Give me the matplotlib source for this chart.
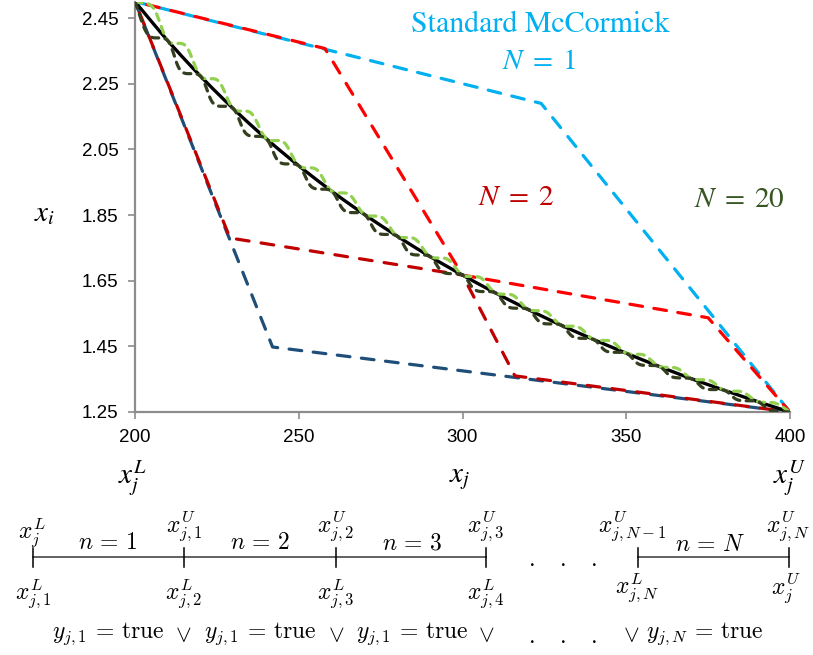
import numpy as np
import matplotlib
matplotlib.use("Agg")
import matplotlib.pyplot as plt

# ---------------- data ----------------
xj_part = [200, 210, 220, 230, 240, 250, 260, 270, 280, 290, 300,
           310, 320, 330, 340, 350, 360, 370, 380, 390, 400]
xi_curve = [2.5, 2.381, 2.273, 2.174, 2.083, 2.0, 1.923, 1.852, 1.786, 1.724, 1.667,
            1.613, 1.5625, 1.515, 1.471, 1.429, 1.389, 1.351, 1.316, 1.282, 1.25]

mc1_upper_x = [200, 324, 400]
mc1_upper_y = [2.5, 2.19, 1.25]
mc1_lower_x = [200, 242, 400]
mc1_lower_y = [2.5, 1.448, 1.25]

n2_p1_upper_x = [200, 258, 300]
n2_p1_upper_y = [2.5, 2.357, 1.667]
n2_p1_lower_x = [200, 229, 300]
n2_p1_lower_y = [2.5, 1.78, 1.667]
n2_p2_upper_x = [300, 375, 400]
n2_p2_upper_y = [1.667, 1.537, 1.25]
n2_p2_lower_x = [300, 316, 400]
n2_p2_lower_y = [1.667, 1.36, 1.25]

n20_upper_x = [200, 205.5, 210, 215.5, 220, 225.5, 230, 235.5, 240, 245.5, 250, 255.5,
               260, 265.5, 270, 275.5, 280, 285.5, 290, 295.5, 300, 305.5, 310, 315.5,
               320, 325.5, 330, 335.5, 340, 345.5, 350, 355.5, 360, 365.5, 370, 375.5,
               380, 385.5, 390, 395.5, 400]
n20_upper_y = [2.5, 2.482, 2.381, 2.365, 2.273, 2.258, 2.174, 2.160, 2.083, 2.071, 2.0, 1.988,
               1.923, 1.912, 1.852, 1.842, 1.786, 1.777, 1.724, 1.715, 1.667, 1.659, 1.613, 1.605,
               1.5625, 1.555, 1.515, 1.508, 1.471, 1.465, 1.429, 1.423, 1.389, 1.383, 1.351, 1.346,
               1.316, 1.311, 1.282, 1.277, 1.25]
n20_lower_x = [200, 204, 210, 214, 220, 224, 230, 234, 240, 244, 250, 254,
               260, 264, 270, 274, 280, 284, 290, 294, 300, 304, 310, 314,
               320, 324, 330, 334, 340, 344, 350, 354, 360, 364, 370, 374,
               380, 384, 390, 394, 400]
n20_lower_y = [2.5, 2.399, 2.381, 2.289, 2.273, 2.189, 2.174, 2.097, 2.083, 2.012, 2.0, 1.935,
               1.923, 1.863, 1.852, 1.796, 1.786, 1.733, 1.724, 1.676, 1.667, 1.621, 1.613, 1.570,
               1.5625, 1.522, 1.515, 1.478, 1.471, 1.435, 1.429, 1.395, 1.389, 1.357, 1.351, 1.321,
               1.316, 1.287, 1.282, 1.255, 1.25]

x_ticks = [200, 250, 300, 350, 400]
y_ticks = [1.25, 1.45, 1.65, 1.85, 2.05, 2.25, 2.45]


def smooth(x, y, n=12):
    """Catmull-Rom rendering of a polyline (like a smoothed spreadsheet line)."""
    x = np.asarray(x, float); y = np.asarray(y, float)
    px = np.concatenate([[2 * x[0] - x[1]], x, [2 * x[-1] - x[-2]]])
    py = np.concatenate([[2 * y[0] - y[1]], y, [2 * y[-1] - y[-2]]])
    ox, oy = [], []
    t = np.linspace(0, 1, n, endpoint=False)
    for i in range(1, len(px) - 2):
        for P, out in ((px, ox), (py, oy)):
            p0, p1, p2, p3 = P[i - 1], P[i], P[i + 1], P[i + 2]
            out.extend(0.5 * ((2 * p1) + (-p0 + p2) * t + (2 * p0 - 5 * p1 + 4 * p2 - p3) * t ** 2
                              + (-p0 + 3 * p1 - 3 * p2 + p3) * t ** 3))
    ox.append(x[-1]); oy.append(y[-1])
    return np.array(ox), np.array(oy)


W, H = 813, 655
fig = plt.figure(figsize=(W / 100, H / 100), dpi=100)
ax = fig.add_axes([135 / W, 1 - 412 / H, 655 / W, 410.4 / H])

CYAN = "#00B0F0"
DBLUE = "#1F4E79"
RED = "#FF0000"
DRED = "#C00000"
LGREEN = "#92D050"
DGREEN = "#333F1F"

lw = 2.3
dl = dict(dash_capstyle="round", solid_capstyle="round")

ax.plot(mc1_upper_x, mc1_upper_y, color=CYAN, lw=lw, dashes=(4.0, 3.6), **dl, zorder=2)
ax.plot(mc1_lower_x, mc1_lower_y, color=DBLUE, lw=lw, dashes=(4.0, 3.6), **dl, zorder=2)
ax.plot(n2_p1_upper_x, n2_p1_upper_y, color=RED, lw=lw, dashes=(0, 3.8, 4.0, 0), **dl, zorder=3)
ax.plot(n2_p1_lower_x, n2_p1_lower_y, color=DRED, lw=lw, dashes=(0, 3.8, 4.0, 0), **dl, zorder=3)
ax.plot(n2_p2_upper_x, n2_p2_upper_y, color=RED, lw=lw, dashes=(4.0, 3.6), **dl, zorder=3)
ax.plot(n2_p2_lower_x, n2_p2_lower_y, color=DRED, lw=lw, dashes=(0, 3.8, 4.0, 0), **dl, zorder=3)

bx, by = smooth(xj_part, xi_curve)
ax.plot(bx, by, color="black", lw=2.4, zorder=4)
ux, uy = smooth(n20_upper_x, n20_upper_y)
ax.plot(ux, uy, color=LGREEN, lw=lw, dashes=(2.2, 2.0), **dl, zorder=5)
lx, ly = smooth(n20_lower_x, n20_lower_y)
ax.plot(lx, ly, color=DGREEN, lw=lw, dashes=(2.2, 2.0), **dl, zorder=5)

ax.set_xlim(200, 400)
ax.set_ylim(1.25, 2.5)
ax.set_xticks(x_ticks)
ax.set_yticks(y_ticks)
ax.set_yticklabels([f"{v:.2f}" for v in y_ticks])
for s in ("top", "right"):
    ax.spines[s].set_visible(False)
for s in ("left", "bottom"):
    ax.spines[s].set_color("#8C8C8C")
    ax.spines[s].set_linewidth(1.6)
ax.tick_params(colors="#8C8C8C", length=5, width=1.2, direction="out")
for lab in ax.get_xticklabels() + ax.get_yticklabels():
    lab.set_color("black")
    lab.set_fontfamily("Liberation Sans")
    lab.set_fontsize(13.5)
ax.tick_params(axis="y", pad=7)
ax.tick_params(axis="x", pad=7)

# annotations inside the plot
ax.text(540 / W, 1 - 25 / H, "Standard McCormick", transform=fig.transFigure, color=CYAN,
        family="STIXGeneral", fontsize=21.5, ha="center", va="center")
ax.text(539 / W, 1 - 61 / H, r"$N\;=\;1$", transform=fig.transFigure, color=CYAN,
        math_fontfamily="stix", fontsize=21, ha="center", va="center")
ax.text(516 / W, 1 - 197 / H, r"$N\;=\;2$", transform=fig.transFigure, color=DRED,
        math_fontfamily="stix", fontsize=21, ha="center", va="center")
ax.text(739 / W, 1 - 199 / H, r"$N\;=\;20$", transform=fig.transFigure, color="#375623",
        math_fontfamily="stix", fontsize=21, ha="center", va="center")

# axis labels
fig.text(45 / W, 1 - 213 / H, r"$x_i$", math_fontfamily="stix", fontsize=21, ha="center", va="center")
fig.text(132 / W, 1 - 478 / H, r"$x_j^L$", math_fontfamily="stix", fontsize=21, ha="center", va="center")
fig.text(460 / W, 1 - 478 / H, r"$x_j$", math_fontfamily="stix", fontsize=21, ha="center", va="center")
fig.text(790 / W, 1 - 478 / H, r"$x_j^U$", math_fontfamily="stix", fontsize=21, ha="center", va="center")

# ---------------- partition diagram ----------------
ov = fig.add_axes([0, 0, 1, 1])
ov.set_xlim(0, W)
ov.set_ylim(H, 0)
ov.axis("off")
ov.patch.set_alpha(0)

ly0 = 557
for x0, x1 in ((33, 486), (638, 789)):
    ov.plot([x0, x1], [ly0, ly0], color="#555555", lw=1.3)
for xt in (33, 184, 336, 486, 638, 789):
    ov.plot([xt, xt], [ly0 - 9, ly0 + 10], color="black", lw=1.1)

fs = 17
kw = dict(math_fontfamily="cm", fontsize=fs, ha="center", va="center")
ov.text(32, 533, r"$x_j^L$", **kw)
ov.text(184, 527, r"$x_{j,1}^U$", **kw)
ov.text(336, 527, r"$x_{j,2}^U$", **kw)
ov.text(486, 527, r"$x_{j,3}^U$", **kw)
ov.text(632, 527, r"$x_{j,N-1}^U$", **kw)
ov.text(788, 527, r"$x_{j,N}^U$", **kw)
ov.text(108, 542, r"$n\,=\,1$", **kw)
ov.text(260, 542, r"$n\,=\,2$", **kw)
ov.text(412, 542, r"$n\,=\,3$", **kw)
ov.text(710, 544, r"$n\,=\,N$", **kw)
ov.text(33, 594, r"$x_{j,1}^L$", **kw)
ov.text(184, 594, r"$x_{j,2}^L$", **kw)
ov.text(336, 594, r"$x_{j,3}^L$", **kw)
ov.text(486, 594, r"$x_{j,4}^L$", **kw)
ov.text(637, 588, r"$x_{j,N}^L$", **kw)
ov.text(786, 588, r"$x_j^U$", **kw)
ov.text(563, 559, r"$.\quad.\quad.$", **kw)

ov.text(108, 634, r"$y_{j,1}\,=\,\mathrm{true}$", **kw)
ov.text(183, 634, r"$\vee$", **kw)
ov.text(260, 634, r"$y_{j,1}\,=\,\mathrm{true}$", **kw)
ov.text(336, 634, r"$\vee$", **kw)
ov.text(412, 634, r"$y_{j,1}\,=\,\mathrm{true}$", **kw)
ov.text(486, 634, r"$\vee$", **kw)
ov.text(563, 636, r"$.\quad.\quad.$", **kw)
ov.text(631, 634, r"$\vee$", **kw)
ov.text(705, 634, r"$y_{j,N}\,=\,\mathrm{true}$", **kw)

fig.savefig("out.png", dpi=100)
